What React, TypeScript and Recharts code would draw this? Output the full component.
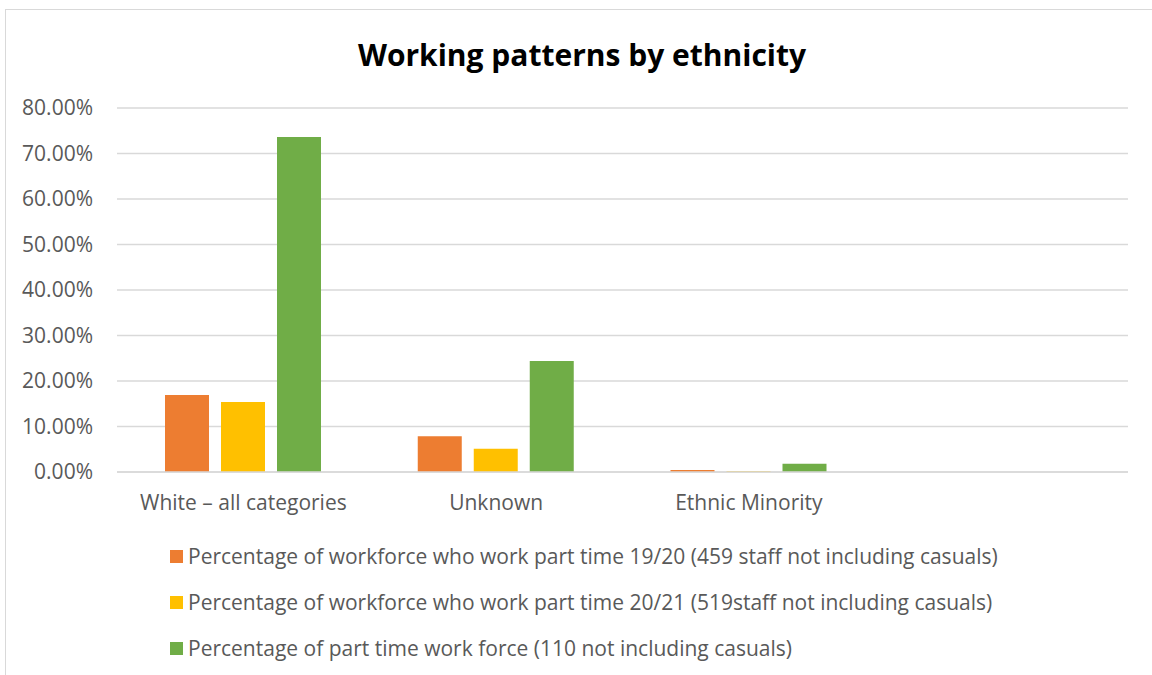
import React from 'react';
import { BarChart, Bar, XAxis, YAxis, CartesianGrid } from 'recharts';

// categories and series (percent)
const categories = ['White – all categories', 'Unknown', 'Ethnic Minority', ''];
const partTime1920 = [16.9, 7.85, 0.45, null];
const partTime2021 = [15.4, 5.1, 0.15, null];
const partTimeWorkforce = [73.6, 24.4, 1.8, null];
const yTicks = [0, 10, 20, 30, 40, 50, 60, 70, 80];

const seriesNames = [
    'Percentage of workforce who work part time 19/20 (459 staff not including casuals)',
    'Percentage of workforce who work part time 20/21 (519staff not including casuals)',
    'Percentage of part time work force (110 not including casuals)',
];
const colors = ['#ED7D31', '#FFC000', '#70AD47'];

const data = categories.map((name, i) => ({
    name,
    s1: partTime1920[i],
    s2: partTime2021[i],
    s3: partTimeWorkforce[i],
}));

const FONT = '"Open Sans", Lato, sans-serif';

const App: React.FC = () => {
    return (
        <div style={{ position: 'absolute', left: 0, top: 0, width: 1152, height: 675, background: '#fff', overflow: 'hidden' }}>
            <div style={{ position: 'absolute', left: 5, top: 9, right: -2, bottom: -2, border: '1.5px solid #d9d9d9' }} />
            <div style={{
                position: 'absolute', left: 0, width: 1164, top: 34, textAlign: 'center',
                fontFamily: FONT, fontWeight: 700, fontSize: 30, color: '#000',
            }}>
                Working patterns by ethnicity
            </div>
            <div style={{ position: 'absolute', left: 0, top: 0 }}>
                <BarChart
                    width={1152}
                    height={675}
                    data={data}
                    margin={{ top: 108, right: 24, left: 5, bottom: 163 }}
                    barGap={12}
                    barSize={44}
                >
                    <CartesianGrid vertical={false} stroke="#d9d9d9" strokeWidth={1.5} />
                    <XAxis
                        dataKey="name"
                        height={40}
                        axisLine={{ stroke: '#d9d9d9', strokeWidth: 1.5 }}
                        tickLine={false}
                        tickSize={0}
                        tickMargin={23}
                        interval={0}
                        tick={{ fill: '#595959', fontSize: 21, fontFamily: FONT }}
                    />
                    <YAxis
                        width={112}
                        domain={[0, 80]}
                        ticks={yTicks}
                        axisLine={false}
                        tickLine={false}
                        tickSize={0}
                        tickMargin={24}
                        tickFormatter={(v: number) => `${v.toFixed(2)}%`}
                        tick={{ fill: '#595959', fontSize: 21, fontFamily: FONT }}
                    />
                    <Bar dataKey="s1" name={seriesNames[0]} fill={colors[0]} isAnimationActive={false} />
                    <Bar dataKey="s2" name={seriesNames[1]} fill={colors[1]} isAnimationActive={false} />
                    <Bar dataKey="s3" name={seriesNames[2]} fill={colors[2]} isAnimationActive={false} />
                </BarChart>
            </div>
            <div style={{ position: 'absolute', left: 170, top: 533, fontFamily: FONT, fontSize: 21, color: '#595959' }}>
                {seriesNames.map((n, i) => (
                    <div key={n} style={{ display: 'flex', alignItems: 'center', height: 46, whiteSpace: 'nowrap' }}>
                        <span style={{ width: 13, height: 13, background: colors[i], marginRight: 5, display: 'inline-block', flexShrink: 0 }} />
                        <span>{n}</span>
                    </div>
                ))}
            </div>
        </div>
    );
};

export default App;
